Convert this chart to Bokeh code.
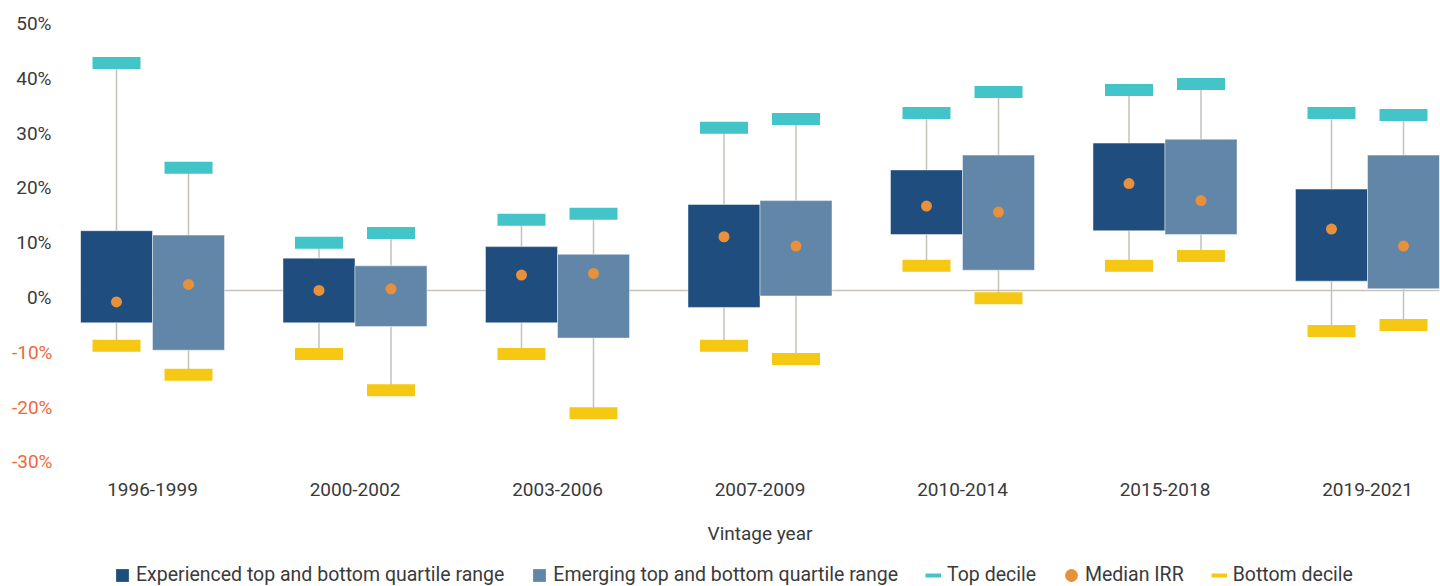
from bokeh.plotting import figure
from bokeh.models import (FactorRange, ColumnDataSource, Legend, LegendItem, Span, Range1d,
                          LinearAxis, FixedTicker)
from bokeh.layouts import column
from bokeh.transform import dodge
from bokeh.embed import file_html
from bokeh.resources import INLINE

# ---------------- data (IRR, %) ----------------
periods = ["1996-1999", "2000-2002", "2003-2006", "2007-2009", "2010-2014", "2015-2018", "2019-2021"]

exp_top_decile = [41.5, 8.7, 12.9, 29.7, 32.4, 36.6, 32.4]
exp_q3 = [10.9, 5.9, 8.0, 15.7, 22.0, 26.9, 18.5]
exp_median = [-2.1, 0.0, 2.8, 9.8, 15.4, 19.5, 11.2]
exp_q1 = [-5.9, -5.9, -5.9, -3.1, 10.2, 10.9, 1.7]
exp_bottom_decile = [-10.1, -11.6, -11.6, -10.1, 4.5, 4.5, -7.4]

em_top_decile = [22.4, 10.5, 14.0, 31.3, 36.2, 37.7, 32.0]
em_q3 = [10.1, 4.5, 6.6, 16.4, 24.7, 27.6, 24.7]
em_median = [1.1, 0.3, 3.1, 8.1, 14.3, 16.4, 8.1]
em_q1 = [-10.9, -6.6, -8.7, -1.0, 3.7, 10.2, 0.3]
em_bottom_decile = [-15.4, -18.2, -22.4, -12.5, -1.4, 6.3, -6.3]

pos_tick_values = [0, 10, 20, 30, 40, 50]
pos_tick_labels = ["0%", "10%", "20%", "30%", "40%", "50%"]
neg_tick_values = [-10, -20, -30]
neg_tick_labels = ["-10%", "-20%", "-30%"]

legend_labels = ["Experienced top and bottom quartile range",
                 "Emerging top and bottom quartile range",
                 "Top decile", "Median IRR", "Bottom decile"]

# ---------------- style ----------------
FONT = "Roboto"
TEXT = "#3a3a3a"
NEG = "#f0683c"
EXP = "#1f4e7e"
EM = "#6286a8"
TEAL = "#42c4c8"
YELLOW = "#f5c814"
ORANGE = "#e8903a"
LINE = "#c6c1b9"
FS = "19px"
LEG_FS = "19.5px"
LABEL_SHIFT = 1.3   # tick labels sit slightly below their gridline in the original

src = ColumnDataSource(dict(
    period=periods,
    exp_top=exp_top_decile, exp_q3=exp_q3, exp_med=exp_median, exp_q1=exp_q1, exp_bot=exp_bottom_decile,
    em_top=em_top_decile, em_q3=em_q3, em_med=em_median, em_q1=em_q1, em_bot=em_bottom_decile,
))

Y0, Y1 = -31.4, 50
xr = FactorRange(factors=periods, range_padding=-0.04127, range_padding_units="percent")
p = figure(x_range=xr, y_range=Range1d(Y0, Y1), width=1440, height=556,
           min_border_left=80, min_border_right=1, min_border_top=16, min_border_bottom=94,
           output_backend="svg", toolbar_location=None)
p.outline_line_color = None
p.xgrid.visible = False
p.ygrid.visible = False

OFF = 0.1778
BW = 0.3556
CW = 0.237

p.add_layout(Span(location=0, dimension="width", line_color=LINE, line_width=1.5, level="underlay"))

for key, off, fill in [("exp", -OFF, EXP), ("em", OFF, EM)]:
    xd = dodge("period", off, range=xr)
    p.segment(x0=xd, x1=xd, y0=key + "_q3", y1=key + "_top", source=src, line_color=LINE, line_width=1.5)
    p.segment(x0=xd, x1=xd, y0=key + "_q1", y1=key + "_bot", source=src, line_color=LINE, line_width=1.5)
    p.vbar(x=xd, top=key + "_q3", bottom=key + "_q1", width=BW, source=src,
           fill_color=fill, line_color="white", line_alpha=0.45, line_width=1)
for key, off in [("exp", -OFF), ("em", OFF)]:
    xd = dodge("period", off, range=xr)
    p.rect(x=xd, y=key + "_top", width=CW, height=12, height_units="screen", source=src,
           fill_color=TEAL, line_color=None)
    p.rect(x=xd, y=key + "_bot", width=CW, height=12, height_units="screen", source=src,
           fill_color=YELLOW, line_color=None)
    p.ellipse(x=xd, y=key + "_med", width=11, height=11, width_units="screen", height_units="screen",
              source=src, fill_color=ORANGE, line_color=None)

# ---------------- y axes (positive labels dark, negative labels orange) ----------------
p.extra_y_ranges = {"ticks": Range1d(Y0 + LABEL_SHIFT, Y1 + LABEL_SHIFT)}
p.yaxis.visible = False


def style_y(axis, color, standoff):
    axis.axis_line_color = None
    axis.major_tick_line_color = None
    axis.minor_tick_line_color = None
    axis.major_tick_out = 0
    axis.major_tick_in = 0
    axis.minor_tick_out = 0
    axis.minor_tick_in = 0
    axis.major_label_standoff = standoff
    axis.major_label_text_font = FONT
    axis.major_label_text_font_size = FS
    axis.major_label_text_color = color


ax_pos = LinearAxis(y_range_name="ticks", ticker=FixedTicker(ticks=pos_tick_values),
                    major_label_overrides=dict(zip(pos_tick_values, pos_tick_labels)))
style_y(ax_pos, TEXT, 29)
p.add_layout(ax_pos, "left")

ax_neg = LinearAxis(y_range_name="ticks", ticker=FixedTicker(ticks=neg_tick_values),
                    major_label_overrides=dict(zip(neg_tick_values, neg_tick_labels)))
style_y(ax_neg, NEG, -39)
p.add_layout(ax_neg, "left")

# ---------------- x axis ----------------
ax = p.xaxis[0]
ax.axis_line_color = None
ax.major_tick_line_color = None
ax.minor_tick_line_color = None
ax.major_tick_out = 0
ax.major_label_text_font = FONT
ax.major_label_text_font_size = FS
ax.major_label_text_color = TEXT
ax.major_label_standoff = 20
ax.axis_label = "Vintage year"
ax.axis_label_text_font = FONT
ax.axis_label_text_font_size = FS
ax.axis_label_text_color = TEXT
ax.axis_label_text_font_style = "normal"
ax.axis_label_standoff = 23

# ---------------- legend strip ----------------
# The strip's y range lies far above every value, so its copies of the marks stay out of
# view and only serve as legend glyphs.
lg = figure(width=1440, height=30, x_range=xr, y_range=Range1d(1000, 1001),
            x_axis_type=None, y_axis_type=None,
            min_border=0, output_backend="svg", toolbar_location=None)
lg.outline_line_color = None
lg.xgrid.visible = False
lg.ygrid.visible = False
xe = dodge("period", -OFF, range=xr)
xm = dodge("period", OFF, range=xr)
l_exp = lg.vbar(x=xe, top="exp_q3", bottom="exp_q1", width=BW, source=src, fill_color=EXP, line_color=None)
l_em = lg.vbar(x=xm, top="em_q3", bottom="em_q1", width=BW, source=src, fill_color=EM, line_color=None)
l_top = lg.line(x=xe, y="exp_top", source=src, line_color=TEAL, line_width=4)
l_med = lg.ellipse(x=xe, y="exp_med", width=11, height=11, width_units="screen", height_units="screen",
                   source=src, fill_color=ORANGE, line_color=None)
l_bot = lg.line(x=xe, y="exp_bot", source=src, line_color=YELLOW, line_width=4)

legend = Legend(items=[LegendItem(label=t, renderers=[r]) for t, r in
                       zip(legend_labels, [l_exp, l_em, l_top, l_med, l_bot])],
                orientation="horizontal", location=(34, 0), glyph_width=16, glyph_height=16,
                label_standoff=6, spacing=27, padding=2, margin=0,
                label_text_font=FONT, label_text_font_size=LEG_FS, label_text_color=TEXT,
                border_line_color=None, background_fill_alpha=0)
lg.add_layout(legend)

layout = column(p, lg, spacing=0)
open("out.html", "w").write(file_html(layout, INLINE))
